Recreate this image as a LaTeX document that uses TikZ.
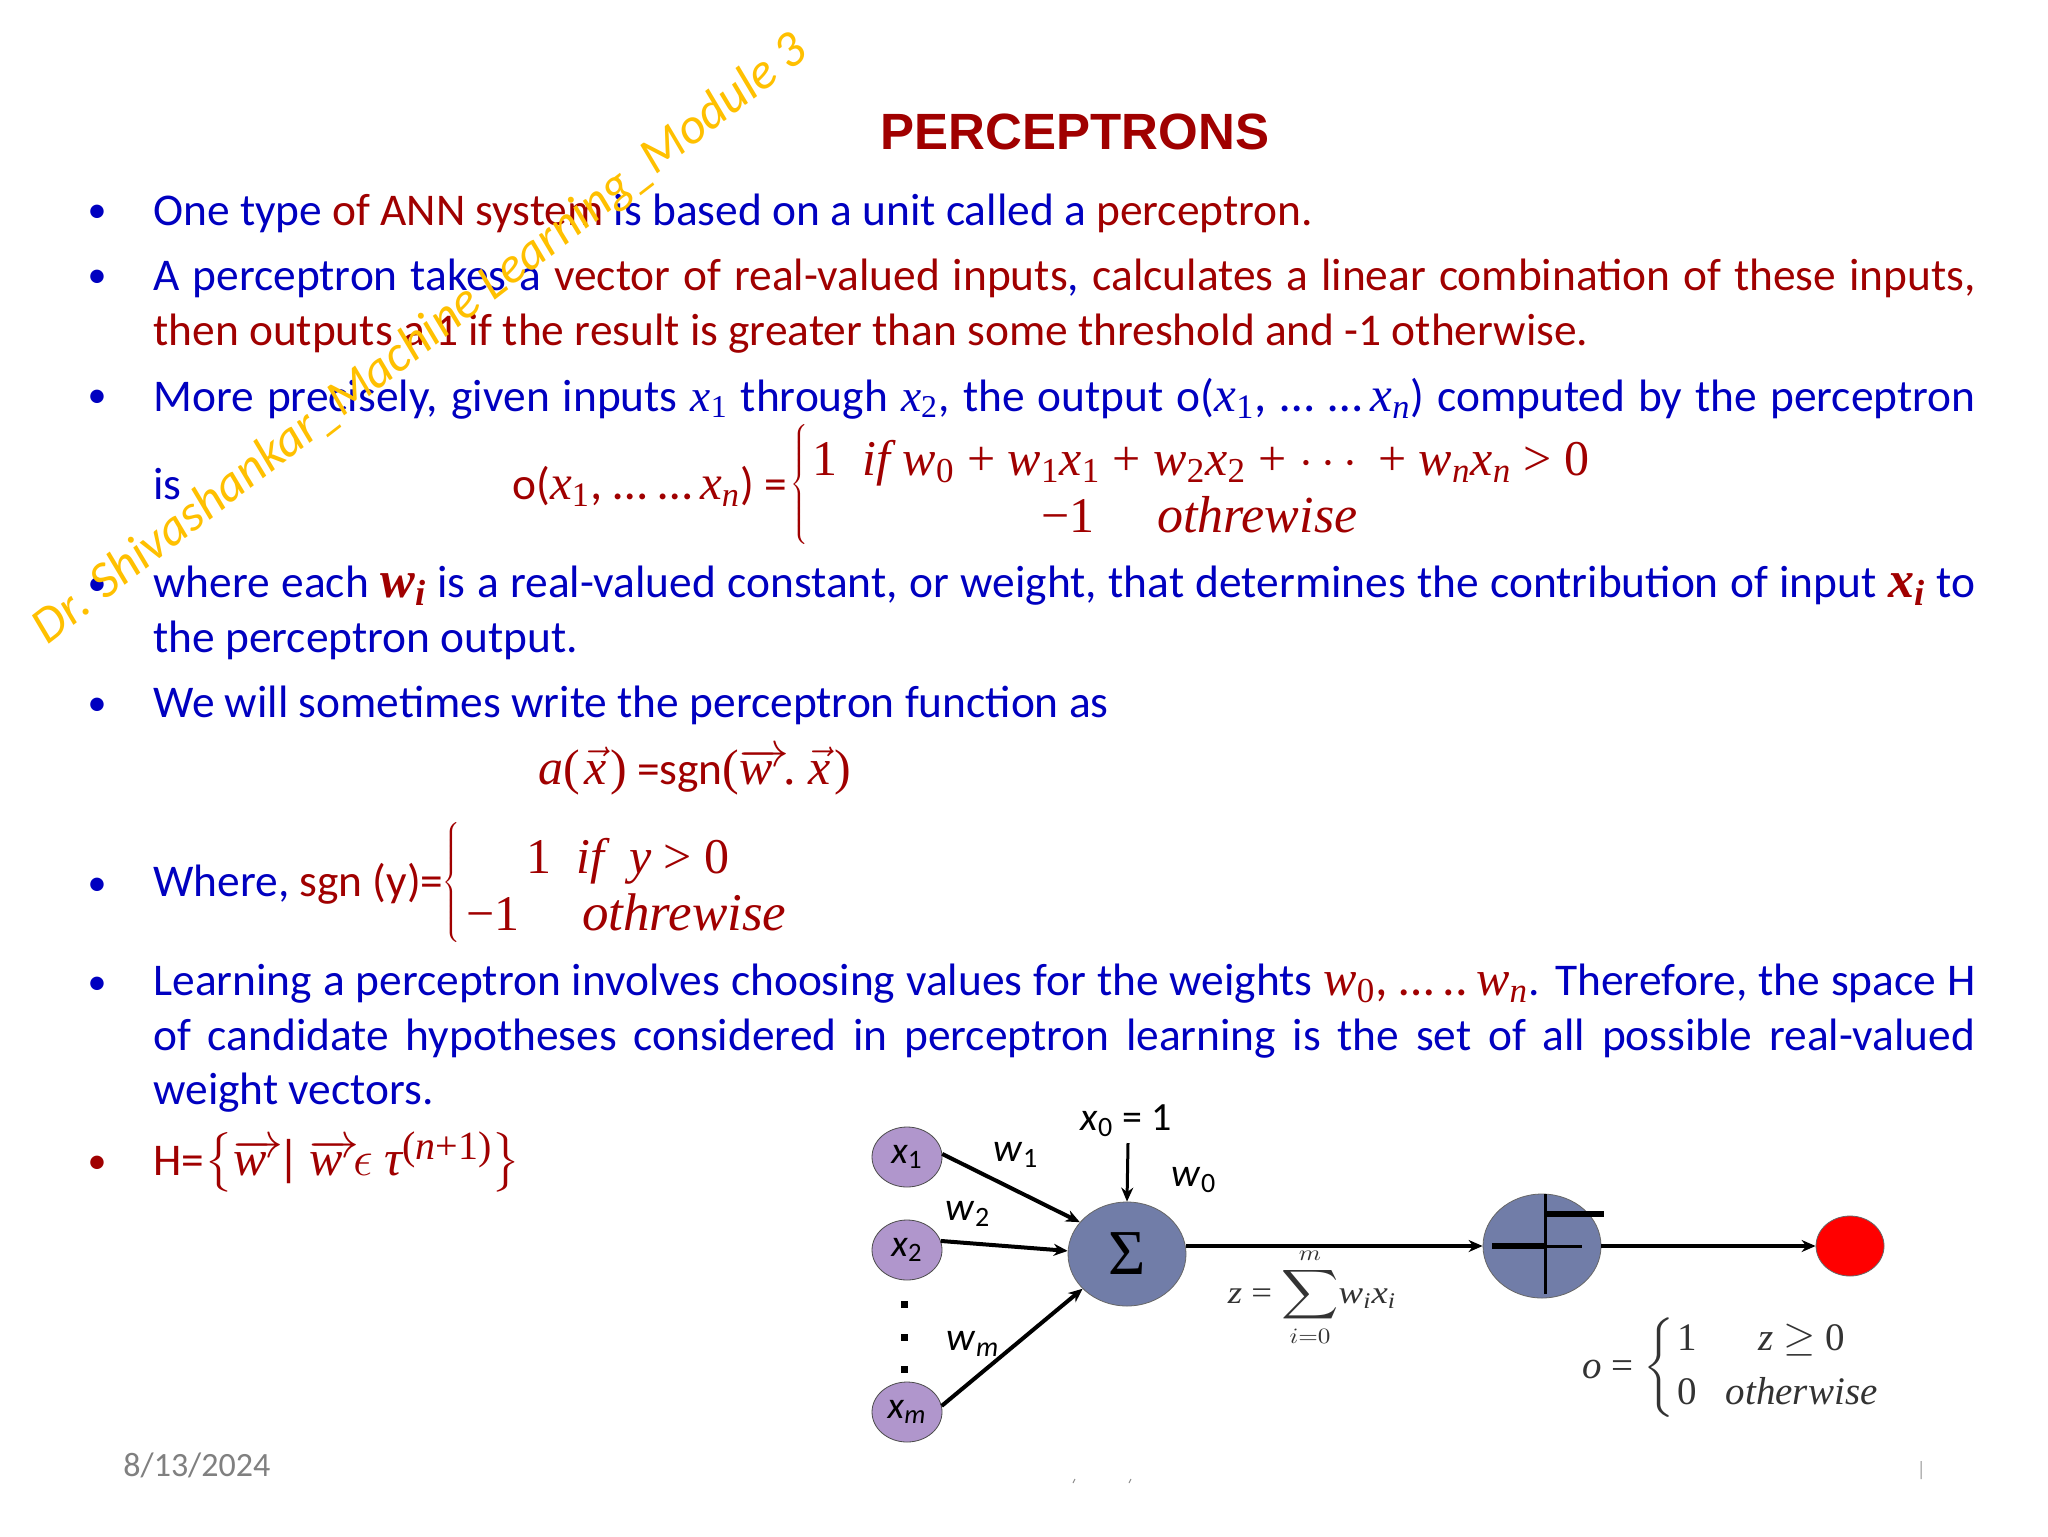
\documentclass[tikz,border=0pt]{standalone}
\usepackage{amsmath}
\usepackage{fontspec}
\setmainfont{Carlito}
\newfontfamily\titlefont{Liberation Sans}
\newfontfamily\mf{Liberation Serif}
\usetikzlibrary{shapes.geometric,arrows.meta}
\definecolor{tblue}{HTML}{0000C0}
\definecolor{tred}{HTML}{A00000}
\definecolor{wmark}{HTML}{FFC000}
\definecolor{purp}{HTML}{B096CC}
\definecolor{slate}{HTML}{717DA8}
\newcommand{\B}{\color{tblue}}
\newcommand{\R}{\color{tred}}
\newcommand{\jline}[1]{\makebox[911pt][s]{#1}}
\newcommand{\sub}[1]{\textsubscript{#1}}
\newcommand{\mi}[1]{{\mf\itshape #1}}
\newcommand{\vs}[2]{{\mf\itshape #1}\textsubscript{\mf\itshape #2}}
\newcommand{\vn}[2]{{\mf\itshape #1}\textsubscript{\mf #2}}
\newcommand{\vb}[2]{{\mf\itshape\bfseries #1}\textsubscript{\mf\itshape\bfseries #2}}
\newcommand{\oarg}{o({\fontsize{24.5}{30}\selectfont\vn{x}{1},~…~…\,\vs{x}{n}})}
\newcommand{\vx}{\kern0.08em$\vec{\hbox{\mi{x}}}$\kern0.08em}
\newcommand{\vw}{\makebox[0pt][l]{\raisebox{0.36em}{$\overrightarrow{\hphantom{\hbox{\mi{w}}}}$}}\mi{w}\kern0.22em}
\tikzset{
  x=0.5pt,y=-0.5pt,
  txt/.style={anchor=base west,inner sep=0pt,font=\fontsize{22.7}{27}\selectfont,text=tblue},
  bul/.style={anchor=base,inner sep=0pt,font=\fontsize{19}{24}\selectfont},
  eqn/.style={anchor=base west,inner sep=0pt,text=tred,font=\mf\fontsize{25}{30}\selectfont},
  brc/.style={anchor=center,inner sep=0pt,text=tred},
  lab/.style={anchor=center,inner sep=0pt,font=\fontsize{20}{24}\selectfont,text=black},
  inp/.style={ellipse,draw=black!70,line width=0.4pt,fill=purp,minimum width=35pt,minimum height=30pt,inner sep=0pt,font=\fontsize{19}{22}\selectfont},
  unit/.style={ellipse,draw=black!60,line width=0.4pt,fill=slate,minimum width=59pt,minimum height=52pt,inner sep=0pt},
  outp/.style={ellipse,draw=black!60,line width=0.4pt,fill=red,minimum width=34pt,minimum height=30pt,inner sep=0pt},
  conn/.style={line width=2pt,draw=black,-{Stealth[length=7pt,width=6pt]}},
  stepl/.style={draw=black,line width=1.5pt},
  stepk/.style={draw=black,line width=3pt},
  dotk/.style={fill=black,inner sep=0pt,minimum size=3.5pt,rectangle},
  math2/.style={anchor=center,inner sep=0pt,text=black!80,font=\mf\fontsize{16}{19}\selectfont}
}
\begin{document}
\begin{tikzpicture}
\useasboundingbox[fill=white] (0,0) rectangle (2048,1536);
% title
\node[anchor=base,inner sep=0pt,text=tred,font=\titlefont\bfseries\fontsize{25.5}{30}\selectfont] (title) at (1075,149) {PERCEPTRONS};
% bullets
\node[bul,text=tblue] (b1) at (97,222) {•};
\node[bul,text=tblue] (b2) at (97,287) {•};
\node[bul,text=tblue] (b3) at (97,407) {•};
\node[bul,text=tblue] (b4) at (97,595) {•};
\node[bul,text=tblue] (b5) at (97,715) {•};
\node[bul,text=tblue] (b6) at (97,895) {•};
\node[bul,text=tblue] (b7) at (97,994) {•};
\node[bul,text=tred] (b8) at (97,1173) {•};
% text lines
\node[txt] (l1) at (153,225) {One type {\R of ANN system} is based on a unit called a {\R perceptron.}};
\node[txt] (l2) at (153,290) {\jline{A perceptron takes a {\R vector} {\R of} {\R real-valued} {\R inputs}, {\R calculates} {\R a} {\R linear} {\R combination} {\R of} {\R these} {\R inputs,}}};
\node[txt,text=tred] (l3) at (153,345) {then outputs a 1 if the result is greater than some threshold and -1 otherwise.};
\node[txt] (l4) at (153,411) {\jline{More precisely, given inputs \vn{x}{1} through \vn{x}{2}, the output \oarg{} computed by the perceptron}};
\node[txt] (l5) at (153,499) {is};
\node[txt,text=tred] (eq1) at (512,499) {\oarg{} =};
\node[brc] (br1) at (801,487) {$\left\{\rule[-30pt]{0pt}{60pt}\right.$};
\node[eqn] (eq1a) at (812,475) {1~~\mi{if}~\vn{w}{0} + \vn{w}{1}\vn{x}{1} + \vn{w}{2}\vn{x}{2} + $\cdots$ + \vs{w}{n}\vs{x}{n} > 0};
\node[eqn] (eq1b) at (1041,532) {−1~~~~~\fontsize{26}{30}\selectfont\mi{othrewise}};
\node[txt] (l6) at (153,597) {\jline{where each {\R\fontsize{26}{30}\selectfont\vb{w}{i}} is a real-valued constant, or weight, that determines the contribution of input {\R\fontsize{26}{30}\selectfont\vb{x}{i}} to}};
\node[txt] (l7) at (153,652) {the perceptron output.};
\node[txt] (l8) at (153,717) {We will sometimes write the perceptron function as};
\node[txt,text=tred] (eq2) at (538,784) {{\mf\fontsize{25}{30}\selectfont\mi{a}(\vx)} =sgn{\mf\fontsize{25}{30}\selectfont(\vw.\,\vx)}};
\node[txt] (l9) at (153,896) {Where, {\R sgn (y)=}};
\node[brc] (br2) at (453,885) {$\left\{\rule[-30pt]{0pt}{60pt}\right.$};
\node[eqn] (eq3a) at (526,873) {1~~\mi{if}~~\mi{y} > 0};
\node[eqn] (eq3b) at (466,930) {−1~~~~~\fontsize{26.5}{30}\selectfont\mi{othrewise}};
\node[txt] (l10) at (153,995) {\jline{Learning a perceptron involves choosing values for the weights {\R\fontsize{25}{30}\selectfont\vn{w}{0},~…\,..\,\vs{w}{n}}. Therefore, the space H}};
\node[txt] (l11) at (153,1050) {\jline{of candidate hypotheses considered in perceptron learning is the set of all possible real-valued}};
\node[txt] (l12) at (153,1104) {weight vectors.};
\node[txt,text=tred] (l13) at (153,1175) {H={\fontsize{25}{30}\selectfont$\left\{\rule[-8pt]{0pt}{29pt}\hbox{\vw|\,\vw$\epsilon$ \mi{τ}\raisebox{8pt}{\mf\fontsize{20}{24}\selectfont(\mi{n}+1)}}\right\}$}};
% footer
\node[anchor=base west,inner sep=0pt,text=black!50,font=\fontsize{17}{20}\selectfont] (date) at (123,1476) {8/13/2024};
\draw[black!45,line width=0.5pt] (1075,1479) -- (1073,1483) (1131,1479) -- (1129,1483) (1921,1461) -- (1921,1479);
% perceptron graphic
\node[inp] (x1) at (907,1157) {\textit{x}\sub{1}};
\node[inp] (x2) at (907,1250) {\textit{x}\sub{2}};
\node[inp] (xm) at (907,1412) {\textit{x}\sub{\textit{m}}};
\node[unit] (sum) at (1127,1254) {\mf\fontsize{32}{36}\selectfont Σ};
\node[unit] (st) at (1542,1246) {};
\node[outp] (out) at (1850,1246) {};
\coordinate (x0top) at (1128,1143);
\node[dotk] (d1) at (904,1304) {};
\node[dotk] (d2) at (904,1337) {};
\node[dotk] (d3) at (904,1369) {};
\draw[conn] (x1.5) -- (sum.146);
\draw[conn] (x2.15) -- (sum.177);
\draw[conn] (xm.10) -- (sum.-142);
\draw[conn,line width=1.5pt] (x0top) -- (sum.north);
\draw[conn] (sum.east |- st.west) -- (st.west);
\draw[conn] (st.east) -- (out.west);
% step glyph
\draw[stepl] (st.center) ++(3,-52) -- ++(0,100);
\draw[stepl] (st.center) ++(-40,0) -- ++(80,0);
\draw[stepk] (st.center) ++(-50,0) -- ++(53,0);
\draw[stepk] (st.center) ++(2,-32) -- ++(60,0);
% labels
\node[lab] (x0l) at (1126,1121) {\textit{x}\sub{0} = 1};
\node[lab] (w1l) at (1016,1155) {\textit{w}\sub{1}};
\node[lab] (w2l) at (968,1214) {\textit{w}\sub{2}};
\node[lab] (wml) at (973,1344) {\textit{w}\sub{\textit{m}}};
\node[lab] (w0l) at (1194,1180) {\textit{w}\sub{0}};
\node[math2] (zf) at (1312,1297) {\scalebox{1.15}[1]{\mi{z} = $\displaystyle\sum_{i=0}^{m}$\vs{w}{i}\vs{x}{i}}};
\node[math2,font=\mf\fontsize{19.5}{24}\selectfont] (of) at (1730,1368) {\mi{o} = $\left\{\rule[-18pt]{0pt}{36pt}\right.$\begin{tabular}{@{}l@{~~~}c@{}}1 & \mi{z} $\ge$ 0\\[3pt] 0 & \mi{otherwise}\end{tabular}};
% watermark
\node[anchor=center,inner sep=0pt,rotate=37.7,text=wmark,font=\itshape\fontsize{25.5}{30}\selectfont] (wm) at (421,340) {Dr. Shivashankar\_Machine Learning\_Module 3};
\end{tikzpicture}
\end{document}
